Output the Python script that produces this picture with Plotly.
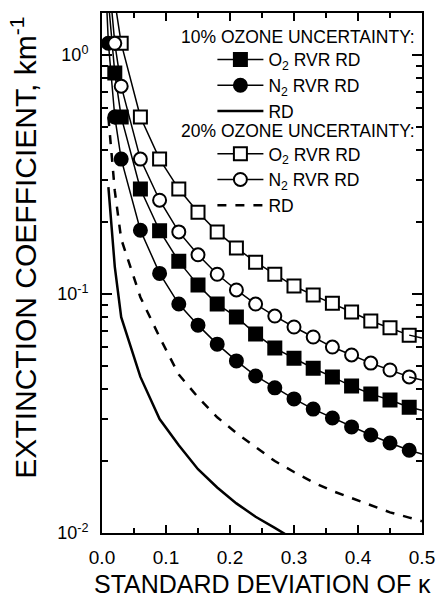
import plotly.graph_objects as go

# ---------------- data ----------------
# 10% ozone uncertainty, O2 RVR RD (filled squares)
o2_10_x = [0.01, 0.02, 0.03, 0.06, 0.09, 0.12, 0.15, 0.18, 0.21, 0.24, 0.27, 0.30, 0.33, 0.36, 0.39, 0.42, 0.45, 0.48]
o2_10_y = [1.68, 0.841, 0.551, 0.275, 0.184, 0.137, 0.109, 0.0908, 0.0802, 0.0681, 0.0594, 0.0539, 0.0489, 0.0450, 0.0412, 0.0382, 0.0360, 0.0336]
# 10% ozone uncertainty, N2 RVR RD (filled circles)
n2_10_x = [0.005, 0.01, 0.02, 0.03, 0.06, 0.09, 0.12, 0.15, 0.18, 0.21, 0.24, 0.27, 0.30, 0.33, 0.36, 0.39, 0.42, 0.45, 0.48]
n2_10_y = [2.2, 1.12, 0.551, 0.367, 0.185, 0.122, 0.0908, 0.0741, 0.0617, 0.0525, 0.0454, 0.0405, 0.0364, 0.0330, 0.0303, 0.0278, 0.0257, 0.0238, 0.0222]
# 10% ozone uncertainty, RD (solid line)
rd_10_x = [0.01, 0.02, 0.03, 0.06, 0.09, 0.12, 0.15, 0.18, 0.21, 0.24, 0.27, 0.30]
rd_10_y = [0.28, 0.13, 0.080, 0.045, 0.030, 0.0233, 0.0185, 0.0155, 0.0133, 0.0117, 0.0105, 0.0094]
# 20% ozone uncertainty, O2 RVR RD (open squares)
o2_20_x = [0.02, 0.03, 0.06, 0.09, 0.12, 0.15, 0.18, 0.21, 0.24, 0.27, 0.30, 0.33, 0.36, 0.39, 0.42, 0.45, 0.48]
o2_20_y = [1.68, 1.12, 0.551, 0.367, 0.275, 0.220, 0.182, 0.156, 0.136, 0.121, 0.108, 0.099, 0.0916, 0.0841, 0.0771, 0.0722, 0.0673]
# 20% ozone uncertainty, N2 RVR RD (open circles)
n2_20_x = [0.01, 0.02, 0.03, 0.06, 0.09, 0.12, 0.15, 0.18, 0.21, 0.24, 0.27, 0.30, 0.33, 0.36, 0.39, 0.42, 0.45, 0.48]
n2_20_y = [2.2, 1.12, 0.741, 0.367, 0.247, 0.182, 0.146, 0.121, 0.104, 0.0908, 0.0809, 0.0728, 0.0661, 0.0600, 0.0556, 0.0514, 0.0481, 0.0450]
# 20% ozone uncertainty, RD (dashed line)
rd_20_x = [0.01, 0.02, 0.03, 0.06, 0.09, 0.12, 0.15, 0.18, 0.21, 0.24, 0.27, 0.30, 0.33, 0.36, 0.39, 0.42, 0.45, 0.48, 0.50]
rd_20_y = [0.55, 0.27, 0.17, 0.097, 0.066, 0.046, 0.037, 0.0305, 0.0262, 0.0228, 0.0200, 0.0180, 0.0163, 0.0150, 0.0140, 0.0131, 0.0122, 0.0116, 0.0112]
# curve continuation from last marker to the right edge
end_x = [0.48, 0.50]
o2_10_end = [0.0336, 0.0326]
n2_10_end = [0.0222, 0.0214]
o2_20_end = [0.0673, 0.0655]
n2_20_end = [0.0450, 0.0437]

group_titles = ["10% OZONE UNCERTAINTY:", "20% OZONE UNCERTAINTY:"]
y_tickvals = [0.01, 0.1, 1]
y_ticktext = ["10<sup>-2</sup>", "10<sup>-1</sup>", "10<sup>0</sup>"]
x_tickvals = [0.0, 0.1, 0.2, 0.3, 0.4, 0.5]
x_ticktext = ["0.0", "0.1", "0.2", "0.3", "0.4", "0.5"]

FONT = "Arial, Liberation Sans, Helvetica, sans-serif"
BLACK = "#000000"

fig = go.Figure()

def marker_trace(x, y, name, symbol, fill, group):
    return go.Scatter(
        x=x, y=y, name=name, mode="lines+markers", legendgroup=group,
        line=dict(color=BLACK, width=1.5),
        marker=dict(symbol=symbol, size=13, color=fill, line=dict(color=BLACK, width=2)),
    )

def ext_trace(x, y):
    return go.Scatter(x=x, y=y, mode="lines", showlegend=False, hoverinfo="skip",
                      line=dict(color=BLACK, width=1.5))

fig.add_trace(marker_trace(o2_10_x, o2_10_y, "O<sub>2</sub> RVR RD", "square", BLACK, "g10"))
fig.add_trace(marker_trace(n2_10_x, n2_10_y, "N<sub>2</sub> RVR RD", "circle", BLACK, "g10"))
fig.add_trace(go.Scatter(x=rd_10_x, y=rd_10_y, name="RD", mode="lines", legendgroup="g10",
                         line=dict(color=BLACK, width=2.5)))
fig.add_trace(marker_trace(o2_20_x, o2_20_y, "O<sub>2</sub> RVR RD", "square", "white", "g20"))
fig.add_trace(marker_trace(n2_20_x, n2_20_y, "N<sub>2</sub> RVR RD", "circle", "white", "g20"))
fig.add_trace(go.Scatter(x=rd_20_x, y=rd_20_y, name="RD", mode="lines", legendgroup="g20",
                         line=dict(color=BLACK, width=2.5, dash="dash")))
for yy in (o2_10_end, n2_10_end, o2_20_end, n2_20_end):
    fig.add_trace(ext_trace(end_x, yy))

# group headers of the legend
fig.add_annotation(text=group_titles[0], xref="paper", yref="paper", x=0.24, y=0.954,
                   xanchor="left", yanchor="middle", showarrow=False,
                   font=dict(size=17.5, family=FONT, color=BLACK))
fig.add_annotation(text=group_titles[1], xref="paper", yref="paper", x=0.24, y=0.773,
                   xanchor="left", yanchor="middle", showarrow=False,
                   font=dict(size=17.5, family=FONT, color=BLACK))
# y axis title
fig.add_annotation(text="EXTINCTION COEFFICIENT, km<sup>-1</sup>", xref="paper", yref="paper",
                   x=-0.245, y=0.548, xanchor="center", yanchor="middle", textangle=-90,
                   showarrow=False, font=dict(size=30, family=FONT, color=BLACK))
# x axis title
fig.add_annotation(text="STANDARD DEVIATION OF κ", xref="paper", yref="paper",
                   x=0.5, y=-0.098, xanchor="center", yanchor="middle",
                   showarrow=False, font=dict(size=25, family=FONT, color=BLACK))

fig.update_layout(
    width=446, height=599,
    margin=dict(l=102, r=24, t=13, b=66, autoexpand=False),
    paper_bgcolor="white", plot_bgcolor="white",
    font=dict(family=FONT, color=BLACK, size=18),
    legend=dict(
        x=0.345, y=0.945, xanchor="left", yanchor="top",
        bgcolor="rgba(0,0,0,0)", borderwidth=0,
        font=dict(size=17.5, family=FONT, color=BLACK),
        tracegroupgap=17, itemwidth=46, groupclick="toggleitem",
    ),
    xaxis=dict(
        range=[0, 0.5], tickvals=x_tickvals, ticktext=x_ticktext,
        ticks="inside", ticklen=8, tickwidth=1.5, tickcolor=BLACK,
        showline=True, linecolor=BLACK, linewidth=2, mirror="ticks",
        showgrid=False, zeroline=False, automargin=False,
        tickfont=dict(size=19), ticklabelstandoff=6,
        minor=dict(dtick=0.05, tick0=0, ticks="inside", ticklen=5, tickwidth=1.5, tickcolor=BLACK, showgrid=False),
    ),
    yaxis=dict(
        type="log", range=[-2, 0.1761], tickvals=y_tickvals, ticktext=y_ticktext,
        ticks="inside", ticklen=10, tickwidth=2, tickcolor=BLACK,
        showline=True, linecolor=BLACK, linewidth=2, mirror="ticks",
        showgrid=False, zeroline=False, automargin=False,
        tickfont=dict(size=18), ticklabelstandoff=8,
        minor=dict(dtick="D1", ticks="inside", ticklen=6, tickwidth=1.5, tickcolor=BLACK, showgrid=False),
    ),
)

fig.write_html("out.html")
